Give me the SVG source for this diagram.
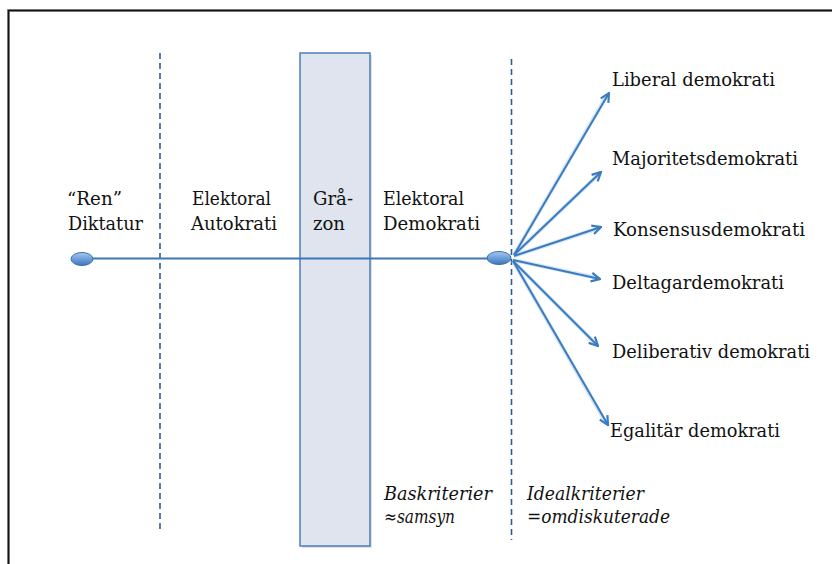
<svg xmlns="http://www.w3.org/2000/svg" width="832" height="564" viewBox="0 0 832 564">
  <style>
    text { font-family: 'DejaVu Serif', 'Liberation Serif', serif; font-size: 18px; fill: #111; }
    .it { font-style: italic; }
    .dash { stroke: #2c5d94; stroke-width: 1.6; stroke-dasharray: 6 4; fill: none; }
    .arrow { stroke: #3a7cc0; stroke-width: 2; fill: none; marker-end: url(#chev); }
    .glow { stroke: #bcd4ee; stroke-width: 4; fill: none; opacity: 0.6; }
  </style>
  <defs>
    <marker id="chev" viewBox="0 0 10 10" refX="9" refY="5" markerWidth="11" markerHeight="11" markerUnits="userSpaceOnUse" orient="auto">
      <path d="M1,1 L9,5 L1,9" fill="none" stroke="#3a7cc0" stroke-width="2" stroke-linejoin="miter"/>
    </marker>
    <linearGradient id="bead" x1="0" y1="0" x2="0" y2="1">
      <stop offset="0" stop-color="#a9c8ec"/>
      <stop offset="0.5" stop-color="#6d9fdb"/>
      <stop offset="1" stop-color="#3f74b5"/>
    </linearGradient>
  </defs>
  <rect x="0" y="0" width="832" height="564" fill="#ffffff"/>
  <path d="M8.5,564 V10.5 H832" fill="none" stroke="#999" stroke-width="3"/>
  <path d="M8.5,564 V10.5 H832" fill="none" stroke="#111" stroke-width="1.5"/>

  <g id="grazon">
    <rect x="302" y="55" width="70" height="493" fill="#c9ccd2" opacity="0.6"/>
    <rect x="300" y="53" width="70" height="493" fill="#dfe4ee" stroke="#4a7ebb" stroke-width="1.5"/>
  </g>

  <g id="dividers">
    <line class="dash" x1="160" y1="53" x2="160" y2="532"/>
    <line class="dash" x1="511.5" y1="59" x2="511.5" y2="540"/>
  </g>

  <g id="connectors">
    <line x1="82" y1="258.5" x2="499" y2="258.5" stroke="#3e76b8" stroke-width="2"/>
    <line class="glow" x1="514" y1="255" x2="607" y2="95"/>
    <line class="glow" x1="514" y1="255" x2="599" y2="174"/>
    <line class="glow" x1="514" y1="256" x2="599" y2="228"/>
    <line class="glow" x1="513" y1="260" x2="598" y2="278"/>
    <line class="glow" x1="513" y1="261" x2="596" y2="344"/>
    <line class="glow" x1="513" y1="261" x2="606" y2="423"/>
    <line class="arrow" x1="514" y1="255" x2="609" y2="93"/>
    <line class="arrow" x1="514" y1="255" x2="601" y2="172"/>
    <line class="arrow" x1="514" y1="256" x2="601" y2="227"/>
    <line class="arrow" x1="513" y1="260" x2="600" y2="279"/>
    <line class="arrow" x1="513" y1="261" x2="598" y2="346"/>
    <line class="arrow" x1="513" y1="261" x2="608" y2="425"/>
  </g>

  <g id="start-node">
    <ellipse cx="82" cy="259" rx="11" ry="6.5" fill="url(#bead)" stroke="#3d6fa8" stroke-width="1"/>
  </g>
  <g id="end-node">
    <ellipse cx="499" cy="258" rx="12" ry="6.5" fill="url(#bead)" stroke="#3d6fa8" stroke-width="1"/>
  </g>

  <g id="label-ren">
    <text x="67" y="205" textLength="55" lengthAdjust="spacingAndGlyphs">“Ren”</text>
    <text x="68" y="230" textLength="75" lengthAdjust="spacingAndGlyphs">Diktatur</text>
  </g>
  <g id="label-autokrati">
    <text x="192" y="205" textLength="79" lengthAdjust="spacingAndGlyphs">Elektoral</text>
    <text x="191" y="230" textLength="86" lengthAdjust="spacingAndGlyphs">Autokrati</text>
  </g>
  <g id="label-grazon">
    <text x="313" y="205" textLength="40" lengthAdjust="spacingAndGlyphs">Grå-</text>
    <text x="313" y="230" textLength="32" lengthAdjust="spacingAndGlyphs">zon</text>
  </g>
  <g id="label-demokrati">
    <text x="383" y="205" textLength="81" lengthAdjust="spacingAndGlyphs">Elektoral</text>
    <text x="383" y="230" textLength="97" lengthAdjust="spacingAndGlyphs">Demokrati</text>
  </g>

  <g id="liberal"><text x="612" y="86" textLength="163" lengthAdjust="spacingAndGlyphs">Liberal demokrati</text></g>
  <g id="majoritets"><text x="612" y="165" textLength="186" lengthAdjust="spacingAndGlyphs">Majoritetsdemokrati</text></g>
  <g id="konsensus"><text x="613" y="236" textLength="192" lengthAdjust="spacingAndGlyphs">Konsensusdemokrati</text></g>
  <g id="deltagar"><text x="612" y="289" textLength="172" lengthAdjust="spacingAndGlyphs">Deltagardemokrati</text></g>
  <g id="deliberativ"><text x="612" y="358" textLength="198" lengthAdjust="spacingAndGlyphs">Deliberativ demokrati</text></g>
  <g id="egalitar"><text x="610" y="437" textLength="170" lengthAdjust="spacingAndGlyphs">Egalitär demokrati</text></g>

  <g id="baskriterier">
    <text class="it" x="384" y="500" textLength="108" lengthAdjust="spacingAndGlyphs">Baskriterier</text>
    <text class="it" x="384" y="523" textLength="71" lengthAdjust="spacingAndGlyphs">≈samsyn</text>
  </g>
  <g id="idealkriterier">
    <text class="it" x="527" y="500" textLength="117" lengthAdjust="spacingAndGlyphs">Idealkriterier</text>
    <text class="it" x="527" y="523" textLength="143" lengthAdjust="spacingAndGlyphs">=omdiskuterade</text>
  </g>
</svg>
